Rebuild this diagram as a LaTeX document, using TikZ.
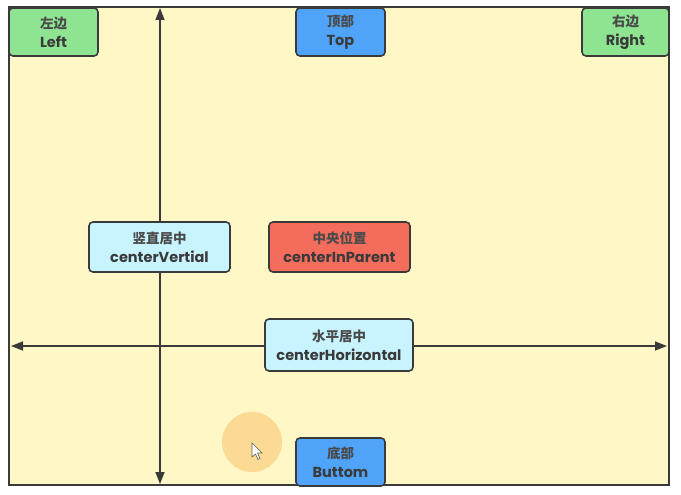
\documentclass[tikz,border=0pt]{standalone}
\usepackage{fontspec}
\setmainfont{Poppins}
\newfontfamily\cjk{Noto Sans CJK SC}
\usetikzlibrary{arrows.meta}
\definecolor{bgyellow}{HTML}{FFF8C6}
\definecolor{boxgreen}{HTML}{8FE492}
\definecolor{boxblue}{HTML}{4FA3F8}
\definecolor{boxcyan}{HTML}{C8F4FF}
\definecolor{boxred}{HTML}{F46C5C}
\definecolor{edgegray}{HTML}{3A3A3A}
\definecolor{txtgray}{HTML}{3A3A3A}
\definecolor{cjkgray}{HTML}{4A4A4A}
\definecolor{halo}{HTML}{FBD88E}
\tikzset{
  lbl/.style={draw=edgegray, line width=1.6pt, rounded corners=4pt, align=center,
    inner sep=0pt, text=txtgray, font=\fontsize{14.5}{19}\selectfont},
  axis/.style={draw=edgegray, line width=1.6pt,
    {Triangle[length=12pt,width=9pt]}-{Triangle[length=12pt,width=9pt]}}
}
\newcommand{\twolines}[2]{{\cjk\bfseries\color{cjkgray}\fontsize{13.5}{19}\selectfont #1}\\\textbf{#2}}
\begin{document}
\begin{tikzpicture}[x=1pt,y=-1pt]
\useasboundingbox (0,0) rectangle (681,495);
\fill[white] (0,0) rectangle (681,495);
\draw[fill=bgyellow, draw=edgegray, line width=1.6pt] (9,7) rectangle (669,485);
% cursor halo
\fill[halo, opacity=0.9] (252,442) circle (30);
\filldraw[fill=white, draw=edgegray!80, line width=0.6pt]
  (252,443) -- (252,457) -- (255.5,454) -- (258,459.5) -- (260,458.5) -- (257.5,453) -- (262,453) -- cycle;
% axes
\coordinate (vtop) at (160,8);
\coordinate (vbot) at (160,484);
\coordinate (hleft) at (11,346);
\coordinate (hright) at (667,346);
\draw[axis] (vbot) -- (vtop);
\draw[axis] (hleft) -- (hright);
% nodes
\node[lbl, fill=boxgreen, minimum width=89pt, minimum height=48pt] (left) at (53.5,32) {\twolines{左边}{Left}};
\node[lbl, fill=boxblue, minimum width=89pt, minimum height=48pt] (top) at (340.5,32) {\twolines{顶部}{Top}};
\node[lbl, fill=boxgreen, minimum width=87pt, minimum height=48pt] (right) at (625.5,32) {\twolines{右边}{Right}};
\node[lbl, fill=boxcyan, minimum width=141pt, minimum height=50pt] (cv) at (159.5,247) {\twolines{竖直居中}{centerVertial}};
\node[lbl, fill=boxred, minimum width=141pt, minimum height=50pt] (cp) at (339.5,247) {\twolines{中央位置}{centerInParent}};
\node[lbl, fill=boxcyan, minimum width=148pt, minimum height=52pt] (ch) at (339,345) {\twolines{水平居中}{centerHorizontal}};
\node[lbl, fill=boxblue, minimum width=89pt, minimum height=48pt] (bottom) at (340.5,462) {\twolines{底部}{Buttom}};
\end{tikzpicture}
\end{document}
